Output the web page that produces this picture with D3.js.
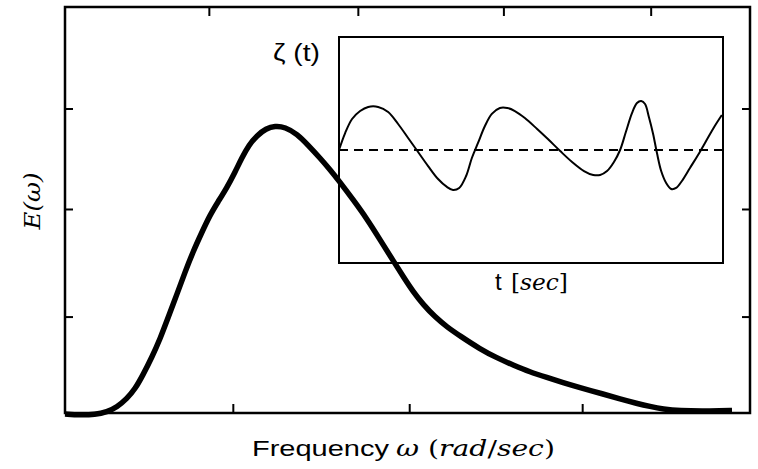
<!DOCTYPE html>
<html>
<head>
<meta charset="utf-8">
<script src="https://cdn.jsdelivr.net/npm/d3@7"></script>
<style>
  html, body { margin: 0; padding: 0; background: #fff; }
  svg { display: block; }
</style>
</head>
<body>
<svg id="chart" width="758" height="469"></svg>
<script>
// ---- Data ----
// Main spectrum E(ω): frequency values (rad/sec) and energy density
const omega = [0, 0.088, 0.175, 0.245, 0.304, 0.362, 0.409, 0.455, 0.508, 0.555, 0.601, 0.654, 0.701, 0.747, 0.800, 0.847, 0.893, 0.946, 0.993, 1.034, 1.074, 1.121, 1.174, 1.226, 1.285, 1.355, 1.419, 1.489, 1.547, 1.600, 1.682, 1.764, 1.839, 1.921, 1.980, 2.032, 2.091, 2.161, 2.231, 2.307, 2.423, 2.523, 2.616, 2.715, 2.815, 2.908, 3.007, 3.142, 3.241, 3.340, 3.416, 3.492, 3.591, 3.726, 3.825, 3.895];
const energy = [-0.010, -0.020, -0.015, 0.010, 0.059, 0.143, 0.236, 0.374, 0.552, 0.729, 0.936, 1.172, 1.389, 1.586, 1.783, 1.951, 2.079, 2.222, 2.374, 2.517, 2.640, 2.734, 2.803, 2.828, 2.818, 2.749, 2.640, 2.512, 2.399, 2.286, 2.103, 1.911, 1.709, 1.488, 1.330, 1.197, 1.069, 0.946, 0.847, 0.759, 0.631, 0.542, 0.473, 0.404, 0.350, 0.300, 0.251, 0.187, 0.138, 0.094, 0.064, 0.039, 0.022, 0.018, 0.022, 0.025];

// Inset surface elevation ζ(t)
const timeT = [0, 0.16, 0.34, 0.55, 0.76, 1.02, 1.28, 1.54, 1.80, 2.06, 2.32, 2.58, 2.81, 2.97, 3.13, 3.31, 3.46, 3.62, 3.80, 3.98, 4.19, 4.38, 4.58, 4.84, 5.16, 5.44, 5.76, 6.07, 6.38, 6.62, 6.80, 6.98, 7.16, 7.32, 7.47, 7.63, 7.76, 7.87, 7.97, 8.07, 8.18, 8.28, 8.39, 8.52, 8.65, 8.78, 8.93, 9.14, 9.35, 9.56, 9.77, 9.97];
const zeta = [0, 0.150, 0.274, 0.345, 0.381, 0.381, 0.336, 0.230, 0.106, -0.018, -0.142, -0.257, -0.327, -0.354, -0.336, -0.230, -0.071, 0.062, 0.212, 0.319, 0.372, 0.372, 0.345, 0.283, 0.186, 0.097, -0.009, -0.106, -0.186, -0.221, -0.221, -0.186, -0.106, 0, 0.159, 0.327, 0.416, 0.434, 0.407, 0.292, 0.142, -0.027, -0.186, -0.292, -0.345, -0.336, -0.274, -0.159, -0.044, 0.080, 0.204, 0.310];

// Tick positions (unlabelled ticks on the frame)
const bottomTicks = [0.98, 2.01, 3.02];
const topTicks = [0.84, 1.71, 2.56, 3.42];
const leftTicks = [0.95, 2.01, 3.00];
const rightTicks = [0.95, 2.01, 3.00];

// Text
const xLabelSans = "Frequency";
const xLabelMath = ["ω ", "(", "rad", "/", "sec", ")"];
const yLabel = "E(ω)";
const insetYLabel = "ζ (t)";
const insetXLabelSans = "t";
const insetXLabelMath = ["[", "sec", "]"];

// ---- Layout ----
const svg = d3.select("#chart");
const plot = { left: 65, right: 750, top: 7, bottom: 413 };
const inset = { left: 339, right: 723, top: 37, bottom: 263 };

const x = d3.scaleLinear().domain([0, 4]).range([plot.left, plot.right]);
const y = d3.scaleLinear().domain([0, 4]).range([plot.bottom, plot.top]);

const xi = d3.scaleLinear().domain([0, 10]).range([inset.left, inset.right]);
const yi = d3.scaleLinear().domain([-1, 1]).range([inset.bottom, inset.top]);

// Ticks via d3 axes (inward, unlabelled)
function styleAxis(g) {
  g.select(".domain").remove();
  g.selectAll(".tick line").attr("stroke", "#000").attr("stroke-width", 2);
  g.selectAll(".tick text").remove();
}
svg.append("g").attr("transform", `translate(0,${plot.bottom})`)
  .call(d3.axisBottom(x).tickValues(bottomTicks).tickSize(-9).tickFormat(""))
  .call(styleAxis);
svg.append("g").attr("transform", `translate(0,${plot.top})`)
  .call(d3.axisTop(x).tickValues(topTicks).tickSize(-9).tickFormat(""))
  .call(styleAxis);
svg.append("g").attr("transform", `translate(${plot.left},0)`)
  .call(d3.axisLeft(y).tickValues(leftTicks).tickSize(-8).tickFormat(""))
  .call(styleAxis);
svg.append("g").attr("transform", `translate(${plot.right},0)`)
  .call(d3.axisRight(y).tickValues(rightTicks).tickSize(-8).tickFormat(""))
  .call(styleAxis);

// Main frame
svg.append("rect")
  .attr("x", plot.left).attr("y", plot.top)
  .attr("width", plot.right - plot.left).attr("height", plot.bottom - plot.top)
  .attr("fill", "none").attr("stroke", "#000").attr("stroke-width", 2.5);

// Inset frame
svg.append("rect")
  .attr("x", inset.left).attr("y", inset.top)
  .attr("width", inset.right - inset.left).attr("height", inset.bottom - inset.top)
  .attr("fill", "none").attr("stroke", "#000").attr("stroke-width", 2);

// Inset zero (mean) line, dashed
svg.append("line")
  .attr("x1", xi(0)).attr("x2", xi(10))
  .attr("y1", yi(0)).attr("y2", yi(0))
  .attr("stroke", "#000").attr("stroke-width", 2)
  .attr("stroke-dasharray", "9,6");

// Inset wave
const waveData = timeT.map((t, i) => ({ t, z: zeta[i] }));
svg.append("path")
  .datum(waveData)
  .attr("fill", "none").attr("stroke", "#000").attr("stroke-width", 2)
  .attr("d", d3.line().x(d => xi(d.t)).y(d => yi(d.z)).curve(d3.curveCatmullRom.alpha(0.5)));

// Main spectrum curve
const specData = omega.map((w, i) => ({ w, e: energy[i] }));
svg.append("path")
  .datum(specData)
  .attr("fill", "none").attr("stroke", "#000").attr("stroke-width", 5.5)
  .attr("stroke-linejoin", "round")
  .attr("d", d3.line().x(d => x(d.w)).y(d => y(d.e)).curve(d3.curveBasis));

// Labels
const sans = "'Liberation Sans', Arial, sans-serif";
const serif = "'DejaVu Serif', 'Liberation Serif', serif";
const upright = new Set(["(", ")", "/", "[", "]"]);

function mathText(sel, parts) {
  parts.forEach(p => {
    sel.append("tspan")
      .attr("font-style", upright.has(p) ? "normal" : "italic")
      .text(p);
  });
}

// Place a text so that it spans exactly `width` px horizontally starting at (x0, y0)
function fitText(sel, x0, y0, width, rotate) {
  const w = sel.node().getComputedTextLength();
  const sx = width / w;
  if (rotate) {
    sel.attr("text-anchor", "middle")
      .attr("transform", `translate(${x0},${y0}) rotate(-90) scale(${sx},1)`);
  } else {
    sel.attr("transform", `translate(${x0},${y0}) scale(${sx},1)`);
  }
}

// x-axis title
svg.append("text")
  .attr("font-size", 22).attr("font-family", sans).attr("fill", "#000")
  .text(xLabelSans)
  .call(fitText, 252, 456, 137);
svg.append("text")
  .attr("font-size", 22).attr("font-family", serif).attr("fill", "#000")
  .call(mathText, xLabelMath)
  .call(fitText, 396, 456, 159);

// y-axis title
svg.append("text")
  .attr("font-family", serif).attr("font-style", "italic").attr("font-size", 23)
  .attr("fill", "#000")
  .text(yLabel)
  .call(fitText, 40, 201, 57, true);

// inset y title
svg.append("text")
  .attr("font-family", sans).attr("font-size", 24).attr("fill", "#000")
  .text(insetYLabel)
  .call(fitText, 273, 61, 47);

// inset x title
svg.append("text")
  .attr("x", 495).attr("y", 290)
  .attr("font-family", sans).attr("font-size", 24).attr("fill", "#000")
  .text(insetXLabelSans);
svg.append("text")
  .attr("font-family", serif).attr("font-size", 22).attr("fill", "#000")
  .call(mathText, insetXLabelMath)
  .call(fitText, 511, 290, 57);
</script>
</body>
</html>
